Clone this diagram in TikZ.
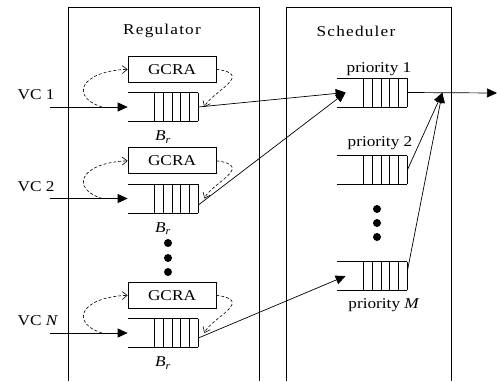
\documentclass[tikz,border=0pt]{standalone}
\usepackage{fontspec}
\setmainfont[FakeStretch=1.15]{Liberation Serif}
\newfontfamily\headfont[FakeStretch=1.15,LetterSpace=8]{Liberation Serif}
\usetikzlibrary{arrows.meta, positioning, calc}

% open-ended buffer: top and bottom rails plus five cells at the right end
\newcommand{\fifo}[1]{%
  \draw (#1.north west) -- (#1.north east) (#1.south west) -- (#1.south east);
  \foreach \k in {0,...,5}
    \draw ($(#1.north east)+(-8.8*\k,0)$) -- ($(#1.south east)+(-8.8*\k,0)$);
}

\begin{document}
\begin{tikzpicture}[x=1pt, y=-1pt, line width=0.7pt, >={Triangle[length=10pt,width=9pt]},
    font=\fontsize{15}{17}\selectfont,
    head/.style={font=\headfont\fontsize{15}{17}\selectfont},
    gcra/.style={draw, minimum width=88pt, minimum height=26pt, inner sep=0pt},
    buf/.style={minimum width=70pt, minimum height=28pt, inner sep=0pt},
    ctl/.style={dash pattern=on 3pt off 2pt, line width=0.6pt, -{Straight Barb[length=5pt,width=8pt]}},
    tag/.style={inner sep=1pt}]
  \useasboundingbox (0,0) rectangle (497,381);

  % the two stages
  \draw (68,381) -- (68,7) -- (259,7) -- (259,381);
  \draw (286,381) -- (286,7) -- (451,7) -- (451,381);
  \node[head] (reg) at (162,31) {Regulator};
  \node[head] (sch) at (356,31) {Scheduler};

  % one shaper per connection
  \foreach \i/\y/\lab in {1/107/1, 2/198.5/2, N/333/\textit{N}} {
    \node[buf] (q\i) at (163,\y) {};
    \fifo{q\i}
    \node[gcra, above right=10pt and 0pt of q\i.north west] (g\i) {GCRA};
    \node[below=6pt of q\i] (b\i) {\textit{B\textsubscript{r}}};
    \node[anchor=west] (vc\i) at (14,\y-12) {VC \lab};
    \coordinate (in\i) at (50,\y);
    \draw[->] (in\i) -- (q\i.west);
    \draw[ctl] ($(in\i)!0.67!(q\i.west)$) .. controls +(-32,-10) and +(-48,2) .. (g\i.west);
    \draw[ctl] (g\i.east) .. controls +(39,5) and +(7,-15) .. ([xshift=6pt]q\i.east);
  }
  \foreach \y in {243,258,272} \fill (168,\y) circle (4pt);

  % priority queues
  \node[buf] (p1) at (372,92.5) {};
  \node[buf] (p2) at (372,170) {};
  \node[buf] (pM) at (372,276) {};
  \fifo{p1} \fifo{p2} \fifo{pM}
  \node[tag, above=1pt of p1, xshift=7pt] (l1) {priority 1};
  \node[tag, above=5pt of p2, xshift=8pt] (l2) {priority 2};
  \node[tag, below=7pt of pM, xshift=12pt] (lM) {priority \textit{M}};
  \foreach \y in {209,223,237} \fill (377,\y) circle (4pt);

  % connections into the scheduler
  \draw[->] (q1.east) -- ([xshift=9pt]p1.west);
  \draw[->] ([yshift=-6.5pt]q2.east) -- ([xshift=9pt]p1.west);
  \draw[->] ([yshift=-5pt]qN.east) -- ([xshift=9pt]pM.west);

  % output link
  \coordinate (out) at (497,93);
  \coordinate (join) at ($(p1.east)!0.39!(out)$);
  \draw[->] (p1.east) -- (out);
  \draw[->] (p2.east) -- (join);
  \draw[->] ([yshift=5pt]pM.east) -- (join);
\end{tikzpicture}
\end{document}
